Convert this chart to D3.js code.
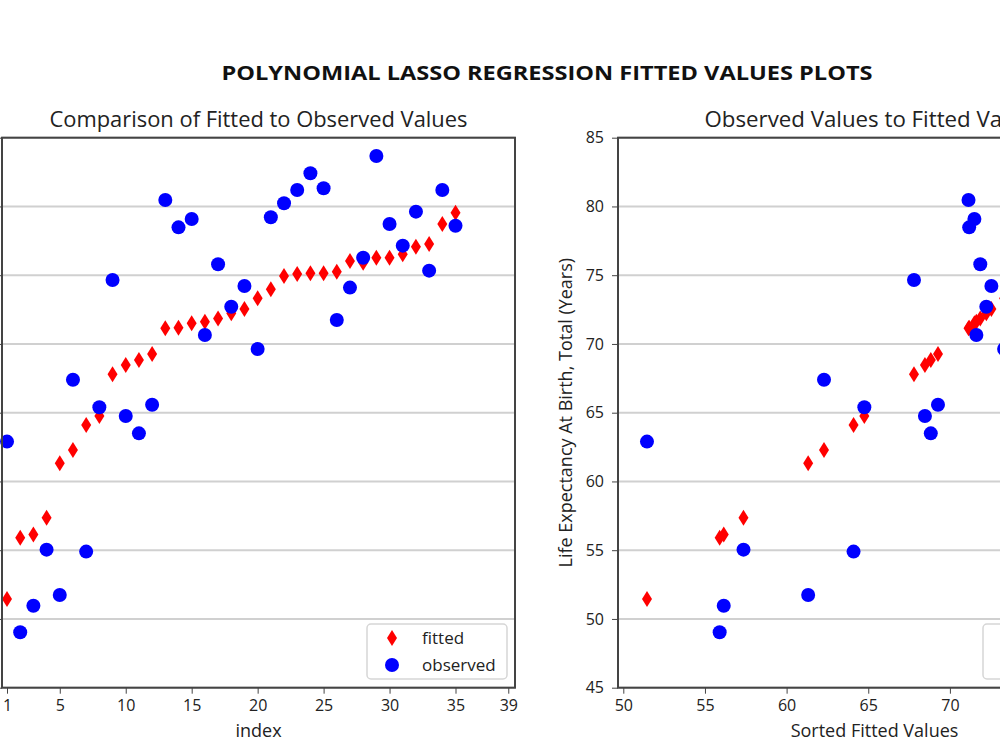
<!DOCTYPE html>
<html>
<head>
<meta charset="utf-8">
<script src="https://cdn.jsdelivr.net/npm/d3@7"></script>
<style>
  body { margin: 0; background: #fff; }
  text { font-family: "Open Sans", "DejaVu Sans", sans-serif; fill: #222; }
  .axis path, .axis line { stroke: #444; }
  .axis text { font-size: 16px; fill: #222; font-family: "Open Sans", sans-serif; }
</style>
</head>
<body>
<div id="chart"></div>
<script>
"use strict";

// index of each country, sorted by fitted value
var index = [1, 2, 3, 4, 5, 6, 7, 8, 9, 10, 11, 12, 13, 14, 15, 16, 17, 18,
  19, 20, 21, 22, 23, 24, 25, 26, 27, 28, 29, 30, 31, 32, 33, 34, 35];
var fitted = [51.45, 55.9, 56.15, 57.36, 61.32, 62.29, 64.1, 64.76, 67.8, 68.47,
  68.83, 69.27, 71.14, 71.18, 71.5, 71.62, 71.86, 72.23, 72.54, 73.32,
  73.97, 74.94, 75.09, 75.14, 75.14, 75.26, 76.03, 75.91, 76.27, 76.27,
  76.52, 77.07, 77.27, 78.72, 79.55];
var observed = [62.9, 49.03, 50.96, 55.04, 51.74, 67.4, 54.9, 65.4, 74.65, 64.76,
  63.5, 65.58, 80.47, 78.48, 79.09, 70.65, 75.8, 72.71, 74.21, 69.63,
  79.21, 80.23, 81.2, 82.41, 81.32, 71.74, 74.1, 76.27, 83.67, 78.72,
  77.15, 79.62, 75.33, 81.2, 78.6];
var indexTicks = [1, 5, 10, 15, 20, 25, 30, 35, 39];
var yTicks = [45, 50, 55, 60, 65, 70, 75, 80, 85];
var seriesNames = ["fitted", "observed"];

var width = 1000, height = 750;

var svg = d3.select("#chart").append("svg")
  .attr("width", width)
  .attr("height", height)
  .style("display", "block");

svg.append("rect")
  .attr("width", width)
  .attr("height", height)
  .attr("fill", "#fff");

svg.append("text")
  .attr("x", 547)
  .attr("y", 80)
  .attr("text-anchor", "middle")
  .attr("textLength", 651)
  .attr("lengthAdjust", "spacingAndGlyphs")
  .style("font-size", "19px")
  .style("font-weight", "bold")
  .style("fill", "#111")
  .text("POLYNOMIAL LASSO REGRESSION FITTED VALUES PLOTS");

var diamond = "M0,-8L5,0L0,8L-5,0Z";

function drawPanel(p) {
  var x = d3.scaleLinear().domain(p.xDomain).range([p.left, p.right]);
  var y = d3.scaleLinear().domain([45, 85]).range([p.bottom, p.top]);

  var g = svg.append("g");

  // horizontal grid
  g.selectAll(".grid")
    .data(yTicks)
    .enter().append("line")
    .attr("x1", p.left)
    .attr("x2", p.right)
    .attr("y1", function(d) { return y(d); })
    .attr("y2", function(d) { return y(d); })
    .style("stroke", "#d0d0d0")
    .style("stroke-width", 2);

  g.append("g")
    .attr("class", "axis")
    .attr("transform", "translate(0," + p.bottom + ")")
    .call(d3.axisBottom(x).tickValues(p.xTicks).tickSize(6).tickPadding(6).tickSizeOuter(0))
    .call(function(a) { a.select(".domain").remove(); });

  g.append("g")
    .attr("class", "axis")
    .attr("transform", "translate(" + p.left + ",0)")
    .call(d3.axisLeft(y).tickValues(yTicks).tickSize(6).tickPadding(8).tickSizeOuter(0)
      .tickFormat(p.showYLabels ? d3.format("d") : function() { return ""; }))
    .call(function(a) { a.select(".domain").remove(); });

  // fitted
  g.selectAll(".fitted")
    .data(p.xs)
    .enter().append("path")
    .attr("class", "fitted")
    .attr("d", diamond)
    .attr("transform", function(d, i) { return "translate(" + x(d) + "," + y(fitted[i]) + ")"; })
    .style("fill", "#ff0000");

  // observed
  g.selectAll(".observed")
    .data(p.xs)
    .enter().append("circle")
    .attr("class", "observed")
    .attr("cx", function(d) { return x(d); })
    .attr("cy", function(d, i) { return y(observed[i]); })
    .attr("r", 7)
    .style("fill", "#0000ff");

  // frame
  g.append("rect")
    .attr("x", p.left)
    .attr("y", p.top)
    .attr("width", p.right - p.left)
    .attr("height", p.bottom - p.top)
    .style("fill", "none")
    .style("stroke", "#444")
    .style("stroke-width", 2);

  g.append("text")
    .attr("x", (p.left + p.right) / 2)
    .attr("y", p.top - 11)
    .attr("text-anchor", "middle")
    .attr("textLength", p.titleWidth)
    .attr("lengthAdjust", "spacingAndGlyphs")
    .style("font-size", "21px")
    .text(p.title);

  g.append("text")
    .attr("x", (p.left + p.right) / 2)
    .attr("y", 737)
    .attr("text-anchor", "middle")
    .style("font-size", "18px")
    .text(p.xLabel);

  if (p.yLabel) {
    g.append("text")
      .attr("transform", "translate(" + (p.left - 46) + "," + ((p.top + p.bottom) / 2) + ") rotate(-90)")
      .attr("text-anchor", "middle")
      .style("font-size", "18px")
      .text(p.yLabel);
  }

  // legend
  var lx = p.right - 148, ly = 624;
  var legend = g.append("g").attr("transform", "translate(" + lx + "," + ly + ")");
  legend.append("rect")
    .attr("width", 140)
    .attr("height", 55)
    .attr("rx", 4)
    .style("fill", "rgba(255,255,255,0.8)")
    .style("stroke", "#d6d6d6")
    .style("stroke-width", 1.5);
  legend.append("path")
    .attr("d", diamond)
    .attr("transform", "translate(25,14)")
    .style("fill", "#ff0000");
  legend.append("circle")
    .attr("cx", 25)
    .attr("cy", 41)
    .attr("r", 7)
    .style("fill", "#0000ff");
  legend.selectAll(".lab")
    .data(seriesNames)
    .enter().append("text")
    .attr("x", 55)
    .attr("y", function(d, i) { return 20 + i * 27; })
    .style("font-size", "17px")
    .text(function(d) { return d; });
}

drawPanel({
  left: 2, right: 515, top: 137.7, bottom: 687.7,
  xDomain: [0.62, 39.51],
  xTicks: indexTicks,
  xs: index,
  title: "Comparison of Fitted to Observed Values",
  titleWidth: 418,
  xLabel: "index",
  yLabel: null,
  showYLabels: false
});

drawPanel({
  left: 618, right: 1131, top: 137.7, bottom: 687.7,
  xDomain: [49.675, 81.09],
  xTicks: [50, 55, 60, 65, 70, 75, 80],
  xs: fitted,
  title: "Observed Values to Fitted Values",
  titleWidth: 340,
  xLabel: "Sorted Fitted Values",
  yLabel: "Life Expectancy At Birth, Total (Years)",
  showYLabels: true
});
</script>
</body>
</html>
